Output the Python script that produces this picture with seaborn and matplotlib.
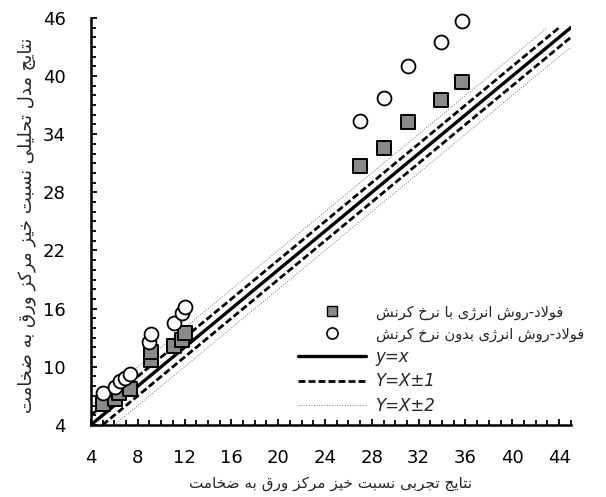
import numpy as np
import matplotlib
matplotlib.use("Agg")
import matplotlib.pyplot as plt
import seaborn as sns
from matplotlib.lines import Line2D
from matplotlib.ticker import MultipleLocator

# Steel - energy method with strain rate (squares)
with_rate_x = [5.0, 6.1, 6.4, 7.3, 9.1, 9.1, 11.1, 11.8, 12.0, 27.0, 29.0, 31.1, 33.9, 35.7]
with_rate_y = [6.2, 6.7, 7.3, 7.7, 10.7, 11.5, 12.1, 12.8, 13.5, 30.7, 32.6, 35.3, 37.5, 39.4]

# Steel - energy method without strain rate (circles)
no_rate_x = [5.0, 6.1, 6.5, 6.9, 7.3, 9.0, 9.1, 11.1, 11.8, 12.0, 27.0, 29.0, 31.1, 33.9, 35.7]
no_rate_y = [7.3, 7.9, 8.5, 8.8, 9.3, 12.6, 13.4, 14.5, 15.5, 16.2, 35.4, 37.7, 41.0, 43.5, 45.7]

# reference lines y = x + offset
line_offsets = [0, 1, -1, 2, -2]
line_lo, line_hi = 4, 45

label_with = "فولاد-روش انرژی با نرخ کرنش"
label_without = "فولاد-روش انرژی بدون نرخ کرنش"
xlabel = "نتایج تجربی نسبت خیز مرکز ورق به ضخامت"
ylabel = "نتایج مدل تحلیلی نسبت خیز مرکز ورق به ضخامت"

# minimal Persian shaping (matplotlib has no bidi / joining)
FORMS = {
    'ا': ('\uFE8D', '\uFE8E', None, None),
    'ب': ('\uFE8F', '\uFE90', '\uFE91', '\uFE92'),
    'ت': ('\uFE95', '\uFE96', '\uFE97', '\uFE98'),
    'ج': ('\uFE9D', '\uFE9E', '\uFE9F', '\uFEA0'),
    'ح': ('\uFEA1', '\uFEA2', '\uFEA3', '\uFEA4'),
    'خ': ('\uFEA5', '\uFEA6', '\uFEA7', '\uFEA8'),
    'د': ('\uFEA9', '\uFEAA', None, None),
    'ر': ('\uFEAD', '\uFEAE', None, None),
    'ز': ('\uFEAF', '\uFEB0', None, None),
    'ژ': ('\uFB8A', '\uFB8B', None, None),
    'س': ('\uFEB1', '\uFEB2', '\uFEB3', '\uFEB4'),
    'ش': ('\uFEB5', '\uFEB6', '\uFEB7', '\uFEB8'),
    'ض': ('\uFEBD', '\uFEBE', '\uFEBF', '\uFEC0'),
    'ف': ('\uFED1', '\uFED2', '\uFED3', '\uFED4'),
    'ق': ('\uFED5', '\uFED6', '\uFED7', '\uFED8'),
    'ک': ('\uFB8E', '\uFB8F', '\uFB90', '\uFB91'),
    'ل': ('\uFEDD', '\uFEDE', '\uFEDF', '\uFEE0'),
    'م': ('\uFEE1', '\uFEE2', '\uFEE3', '\uFEE4'),
    'ن': ('\uFEE5', '\uFEE6', '\uFEE7', '\uFEE8'),
    'ه': ('\uFEE9', '\uFEEA', '\uFEEB', '\uFEEC'),
    'و': ('\uFEED', '\uFEEE', None, None),
    'ی': ('\uFBFC', '\uFBFD', '\uFBFE', '\uFBFF'),
}


def dual(c):
    return c in FORMS and FORMS[c][2] is not None


def fa(s):
    out = []
    i = 0
    while i < len(s):
        c = s[i]
        if c not in FORMS:
            out.append(c)
            i += 1
            continue
        join_prev = i > 0 and dual(s[i - 1])
        if c == 'ل' and i + 1 < len(s) and s[i + 1] == 'ا':
            out.append('\uFEFC' if join_prev else '\uFEFB')
            i += 2
            continue
        join_next = dual(c) and i + 1 < len(s) and s[i + 1] in FORMS
        iso, fin, ini, med = FORMS[c]
        if join_prev and join_next:
            out.append(med)
        elif join_prev:
            out.append(fin)
        elif join_next:
            out.append(ini)
        else:
            out.append(iso)
        i += 1
    return ''.join(reversed(out))


sns.set_style("white")
plt.rcParams['font.family'] = ['DejaVu Sans']

fig = plt.figure(figsize=(6.06, 4.97), dpi=100)
ax = fig.add_axes([0.150, 0.145, 0.792, 0.819])

# reference lines
styles = {0: dict(color='black', lw=2.4, ls='-'),
          1: dict(color='black', lw=2.0, dashes=(2.5, 1.1)),
          2: dict(color='#777777', lw=0.7, ls=':')}
for d in line_offsets:
    lx = np.array([max(line_lo, line_lo - d), min(line_hi, line_hi - d)], dtype=float)
    st = styles[abs(d)]
    ax.plot(lx, lx + d, zorder=2, **st)

sns.scatterplot(x=with_rate_x, y=with_rate_y, marker='s', s=110, color='#8a8a8a',
                edgecolor='black', linewidth=1.4, ax=ax, zorder=3, clip_on=False)
sns.scatterplot(x=no_rate_x, y=no_rate_y, marker='o', s=100, color='white',
                edgecolor='black', linewidth=1.3, ax=ax, zorder=4, clip_on=False)

ax.set_xlim(4, 45)
ax.set_ylim(4, 46)
ax.xaxis.set_major_locator(MultipleLocator(4))
ax.xaxis.set_minor_locator(MultipleLocator(1))
ax.set_yticks(np.arange(4, 47, 6))
ax.yaxis.set_minor_locator(MultipleLocator(1))
ax.tick_params(which='both', direction='in', width=1.3, colors='black',
               bottom=True, left=True, top=False, right=False)
ax.tick_params(which='major', length=4.5, labelsize=13)
ax.tick_params(which='minor', length=3.5)
ax.tick_params(axis='x', which='major', pad=17)
ax.tick_params(axis='y', which='major', pad=18)
for side in ['top', 'right']:
    ax.spines[side].set_visible(False)
for side in ['left', 'bottom']:
    ax.spines[side].set_linewidth(1.8)
    ax.spines[side].set_color('black')

ax.set_xlabel(fa(xlabel), fontsize=11)
ax.set_ylabel(fa(ylabel), fontsize=13)
ax.xaxis.set_label_coords(0.5, -0.125)
ax.yaxis.set_label_coords(-0.115, 0.49)

handles = [
    Line2D([], [], marker='s', ls='', mfc='#8a8a8a', mec='black', ms=6.5, mew=1.0),
    Line2D([], [], marker='o', ls='', mfc='white', mec='black', ms=8, mew=1.2),
    Line2D([], [], color='black', lw=2.4),
    Line2D([], [], color='black', lw=2.0, dashes=(2.5, 1.1)),
    Line2D([], [], color='#777777', lw=0.7, ls=':'),
]
labels = [fa(label_with), fa(label_without), 'y=x', 'Y=X±1', 'Y=X±2']
leg = ax.legend(handles, labels, loc='upper left',
                bbox_to_anchor=(298 / 606, 1 - 305 / 497), bbox_transform=fig.transFigure,
                frameon=False, fontsize=12, handlelength=4.1, handletextpad=0.55,
                labelspacing=0.38, borderpad=0, borderaxespad=0)
for t in leg.get_texts()[:2]:
    t.set_fontsize(10.5)
for t in leg.get_texts()[2:]:
    t.set_style('italic')

fig.savefig("out.png", dpi=100)
